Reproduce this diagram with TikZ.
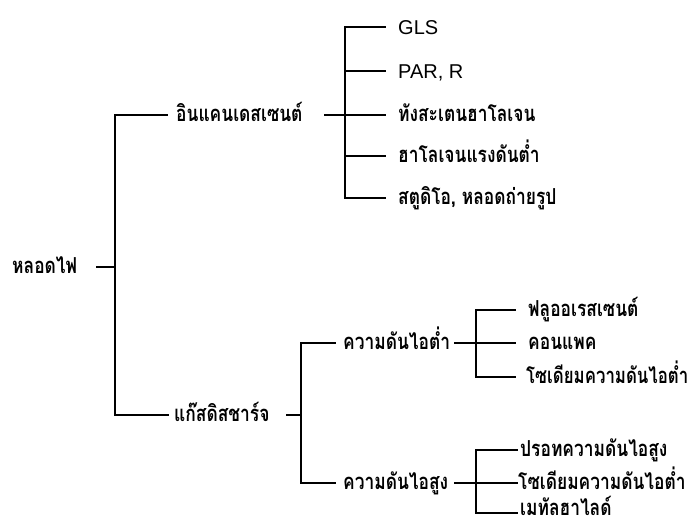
\documentclass[tikz,border=0pt]{standalone}
\usepackage{fontspec}
\newfontfamily\thaifont[Script=Thai, FakeStretch=0.79]{Loma}
\newfontfamily\thainarrow[Script=Thai, FakeStretch=0.765]{Loma}
\newfontfamily\latfont{Liberation Sans}
\tikzset{
  th/.style={font=\thaifont\bfseries\fontsize{22}{26}\selectfont, inner sep=0pt, anchor=base west},
  thn/.style={th, font=\thainarrow\bfseries\fontsize{22}{26}\selectfont},
  la/.style={font=\latfont\fontsize{20}{24}\selectfont, inner sep=0pt, anchor=base west},
  tree/.style={line width=1.6pt, line cap=rect},
}
\begin{document}
\begin{tikzpicture}[x=1pt, y=-1pt]
\useasboundingbox (0,0) rectangle (693,523);

% ---- root ----
\node[th] (root) at (12,273) {หลอดไฟ};
\coordinate (rootL) at (97,267);
\coordinate (j0) at (115,267);
\coordinate (j0t) at (115,115);
\coordinate (j0b) at (115,415);
\draw[tree] (rootL) -- (j0);
\draw[tree] (j0t) -- (j0b);

% ---- incandescent group ----
\coordinate (incL) at (167,115);
\node[th] (inc) at (176,121) {อินแคนเดสเซนต์};
\coordinate (incR) at (325,115);
\coordinate (j1) at (345,115);
\coordinate (j1t) at (345,27);
\coordinate (j1b) at (345,198);
\draw[tree] (j0t) -- (incL);
\draw[tree] (incR) -- (j1);
\draw[tree] (j1t) -- (j1b);

\node[la] (gls) at (398,34) {GLS};
\node[la] (par) at (398,78) {PAR, R};
\node[th] (tung) at (398,121) {ทังสะเตนฮาโลเจน};
\node[th] (lvh) at (398,162) {ฮาโลเจนแรงดันต่ำ};
\node[th] (stu) at (398,204) {สตูดิโอ, หลอดถ่ายรูป};
\foreach \n/\y in {gls/27, par/71, tung/115, lvh/156, stu/198}{
  \coordinate (\n L) at (385,\y);
  \draw[tree] (345,\y) -- (\n L);
}

% ---- gas discharge group ----
\coordinate (gasL) at (168,415);
\node[th] (gas) at (174,421) {แก๊สดิสชาร์จ};
\coordinate (gasR) at (287,415);
\coordinate (j2) at (301,415);
\coordinate (j2t) at (301,343);
\coordinate (j2b) at (301,483);
\draw[tree] (j0b) -- (gasL);
\draw[tree] (gasR) -- (j2);
\draw[tree] (j2t) -- (j2b);

% low pressure
\coordinate (lowL) at (335,343);
\node[th] (low) at (343,349) {ความดันไอต่ำ};
\coordinate (lowR) at (455,343);
\coordinate (j3) at (476,343);
\coordinate (j3t) at (476,310);
\coordinate (j3b) at (476,377);
\draw[tree] (j2t) -- (lowL);
\draw[tree] (lowR) -- (j3);
\draw[tree] (j3t) -- (j3b);
\node[th] (flu) at (528,316) {ฟลูออเรสเซนต์};
\node[th] (cfl) at (528,349) {คอนแพค};
\node[thn] (lps) at (526,383) {โซเดียมความดันไอต่ำ};
\foreach \n/\y in {flu/310, cfl/343, lps/377}{
  \coordinate (\n L) at (515,\y);
  \draw[tree] (476,\y) -- (\n L);
}

% high pressure
\coordinate (highL) at (335,483);
\node[th] (high) at (343,489) {ความดันไอสูง};
\coordinate (highR) at (455,483);
\coordinate (j4) at (476,483);
\coordinate (j4t) at (476,450);
\coordinate (j4b) at (476,513);
\draw[tree] (j2b) -- (highL);
\draw[tree] (highR) -- (j4);
\draw[tree] (j4t) -- (j4b);
\node[th] (hg) at (520,456) {ปรอทความดันไอสูง};
\node[th] (hps) at (518,489) {โซเดียมความดันไอต่ำ};
\node[th] (mh) at (520,515) {เมทัลฮาไลด์};
\foreach \n/\y in {hg/450, hps/483, mh/513}{
  \coordinate (\n L) at (517,\y);
  \draw[tree] (476,\y) -- (\n L);
}
\end{tikzpicture}
\end{document}
